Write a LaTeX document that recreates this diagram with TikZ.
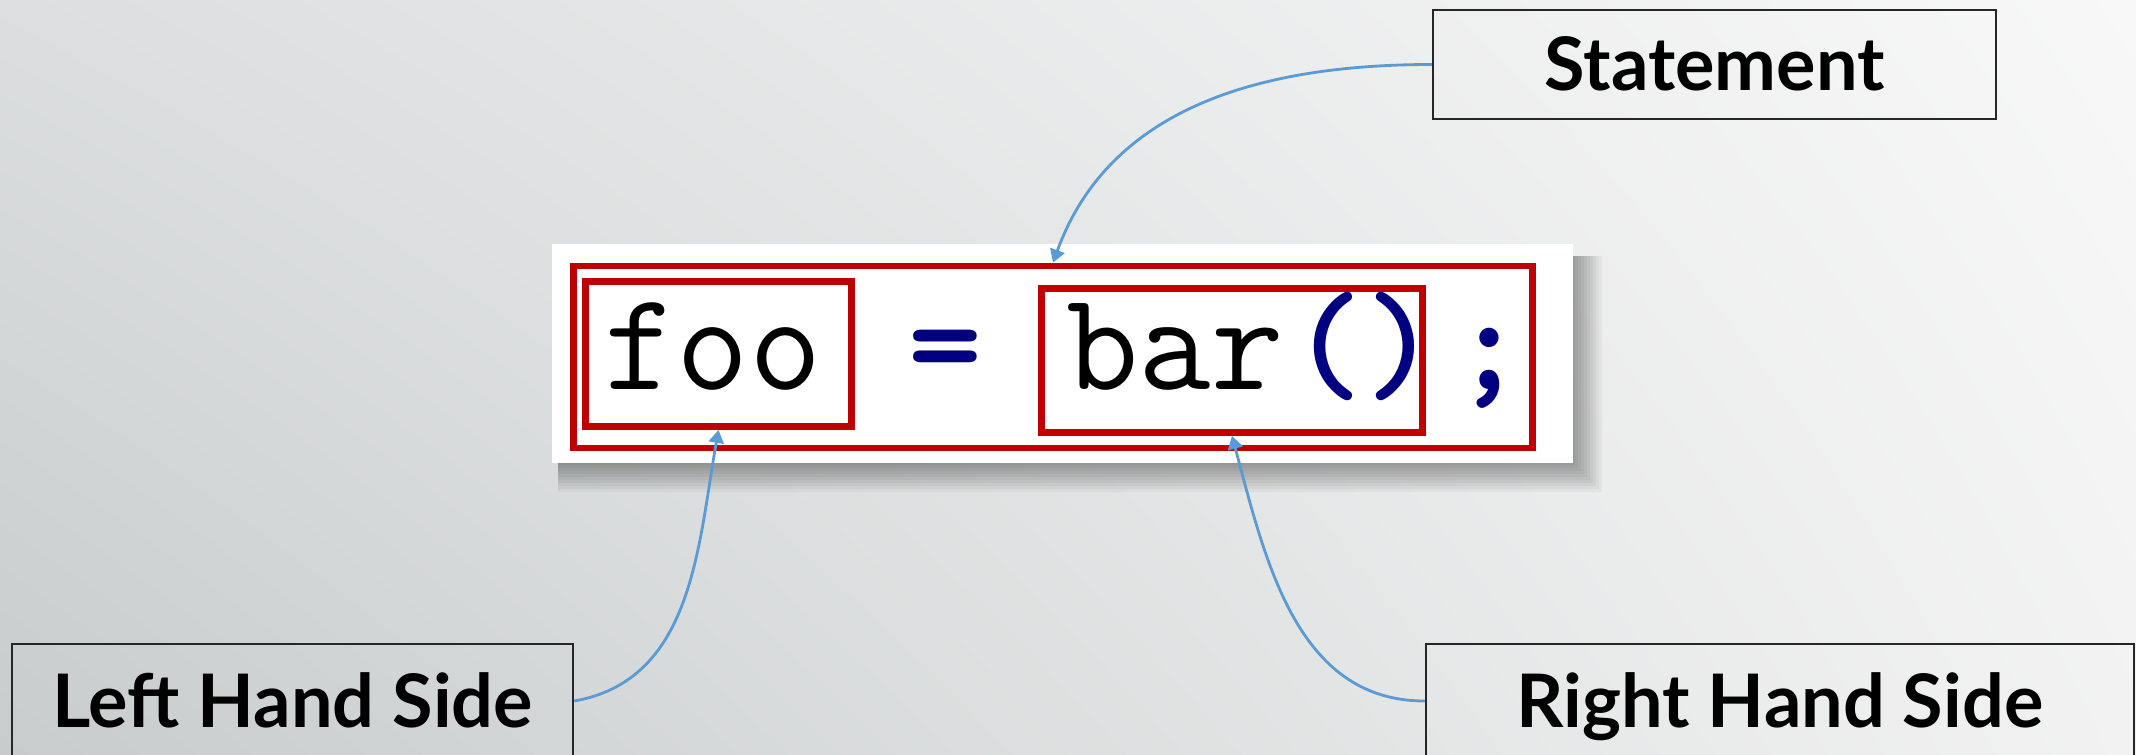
\documentclass[tikz,border=0pt]{standalone}
\usepackage{fontspec}
\setmainfont{Lato}
\usepackage{tikz}
\usetikzlibrary{arrows.meta, shadings}
\usepackage{xcolor}
\definecolor{boxred}{RGB}{192, 0, 0}
\definecolor{arrowblue}{RGB}{91, 155, 213}
\definecolor{opnavy}{RGB}{0, 0, 128}
\definecolor{bgtl}{RGB}{220, 222, 223}
\definecolor{bgtr}{RGB}{248, 248, 248}
\definecolor{bgbl}{RGB}{200, 204, 205}
\definecolor{bgbr}{RGB}{242, 242, 242}

\begin{document}
\begin{tikzpicture}[x=0.01cm, y=0.01cm, >={Triangle[length=0.13cm, width=0.15cm]},
    redbox/.style={draw=boxred, line width=1.9pt, inner sep=0pt},
    labelbox/.style={draw=black!85, line width=0.6pt, inner sep=0pt,
      font=\fontsize{21}{25}\selectfont\bfseries, text height=15pt, text depth=0pt},
    code/.style={inner sep=0pt, anchor=base, font=\fontsize{40}{48}\selectfont\ttfamily},
    op/.style={code, text=opnavy, font=\fontsize{40}{48}\selectfont\ttfamily\bfseries},
    link/.style={->, arrowblue, line width=0.8pt}]
    \useasboundingbox (0, 0) rectangle (2136, 754);
    \shade[upper left=bgtl, upper right=bgtr, lower left=bgbl, lower right=bgbr]
      (0, 0) rectangle (2136, 754);
    % shadow of the code panel
    \foreach \r in {2, 5, ..., 29}
      \fill[black, opacity=0.04] (558, 291-\r) rectangle (1573+\r, 498);
    \node[fill=white, inner sep=0pt, minimum width=10.21cm, minimum height=2.19cm] (panel) at (1062.5, 400.5) {};
    \node[redbox, minimum width=9.58cm, minimum height=1.82cm] (codeline) at (1053, 397) {};
    \node[redbox, minimum width=2.66cm, minimum height=1.45cm] (foobox) at (718.5, 400) {};
    \node[redbox, minimum width=3.81cm, minimum height=1.44cm] (barbox) at (1232, 393.5) {};
    \node[code] (foo) at (713, 365) {foo};
    \node[op] (eq) at (945, 365) {=};
    \node[code] (bar) at (1175, 365) {bar};
    \node[op] (paren) at (1364, 365) {()};
    \node[op] (semi) at (1489, 365) {;};

    \node[labelbox, minimum width=5.63cm, minimum height=1.09cm] (stmt) at (1714.5, 689.5) {Statement};
    \node[labelbox, minimum width=5.61cm, minimum height=1.14cm] (lhs) at (292.5, 53) {Left Hand Side};
    \node[labelbox, minimum width=7.08cm, minimum height=1.14cm] (rhs) at (1780, 53) {Right Hand Side};

    \draw[link] (stmt.west) to[out=180, in=70] (codeline.north);
    \draw[link] (lhs.east) to[out=10, in=-100] (foobox.south);
    \draw[link] (rhs.west) to[out=180, in=-75] (barbox.south);
  \end{tikzpicture}
\end{document}
